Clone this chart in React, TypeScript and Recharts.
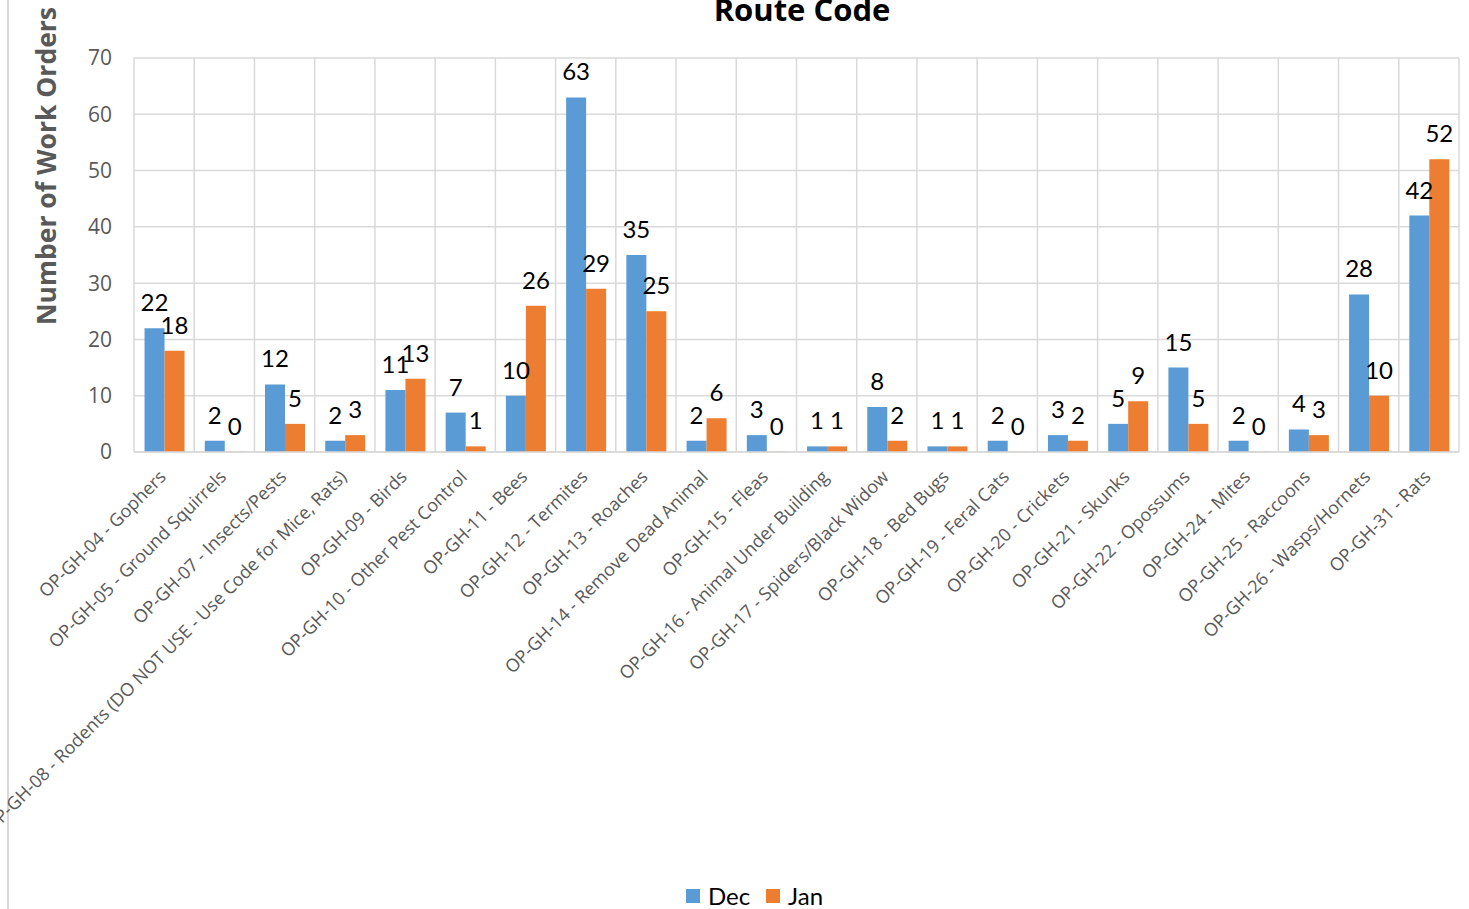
import React from 'react';
import { BarChart, Bar, XAxis, YAxis, CartesianGrid, LabelList } from 'recharts';

const categories = [
  'OP-GH-04 - Gophers',
  'OP-GH-05 - Ground Squirrels',
  'OP-GH-07 - Insects/Pests',
  'OP-GH-08 - Rodents (DO NOT USE - Use Code for Mice, Rats)',
  'OP-GH-09 - Birds',
  'OP-GH-10 - Other Pest Control',
  'OP-GH-11 - Bees',
  'OP-GH-12 - Termites',
  'OP-GH-13 - Roaches',
  'OP-GH-14 - Remove Dead Animal',
  'OP-GH-15 - Fleas',
  'OP-GH-16 - Animal Under Building',
  'OP-GH-17 - Spiders/Black Widow',
  'OP-GH-18 - Bed Bugs',
  'OP-GH-19 - Feral Cats',
  'OP-GH-20 - Crickets',
  'OP-GH-21 - Skunks',
  'OP-GH-22 - Opossums',
  'OP-GH-24 - Mites',
  'OP-GH-25 - Raccoons',
  'OP-GH-26 - Wasps/Hornets',
  'OP-GH-31 - Rats',
];
const decValues = [22, 2, 12, 2, 11, 7, 10, 63, 35, 2, 3, 1, 8, 1, 2, 3, 5, 15, 2, 4, 28, 42];
const janValues = [18, 0, 5, 3, 13, 1, 26, 29, 25, 6, 0, 1, 2, 1, 0, 2, 9, 5, 0, 3, 10, 52];
const yTicks = [0, 10, 20, 30, 40, 50, 60, 70];

const data = categories.map((name, i) => ({ name, Dec: decValues[i], Jan: janValues[i] }));

const AXIS_FONT = "'Open Sans', sans-serif";
const LABEL_FONT = "Lato, 'Open Sans', sans-serif";

const XTick = (props: any) => {
  const { x, y, payload } = props;
  const ax = x + 3;
  const ay = y + 18;
  return (
    <text
      x={ax}
      y={ay}
      transform={`rotate(-45, ${ax}, ${ay})`}
      textAnchor="end"
      fill="#595959"
      fontSize={18}
      fontFamily={AXIS_FONT}
    >
      {payload.value}
    </text>
  );
};

const minSize = (value: any) => (value === 0 ? 0.3 : 0);

export default function App() {
  return (
    <div style={{ position: 'absolute', left: 0, top: 0, width: 1469, height: 909, background: '#fff', overflow: 'hidden' }}>
      <div style={{ position: 'absolute', left: 7, top: 0, width: 2, height: 909, background: '#d9d9d9' }} />
      <BarChart
        width={1469}
        height={909}
        data={data}
        margin={{ top: 58, right: 10, left: 8, bottom: 57 }}
        barCategoryGap="17.5%"
        barGap={0}
      >
        <text x={802} y={21} textAnchor="middle" fontFamily={AXIS_FONT} fontWeight="bold" fontSize={31} fill="#000">
          Route Code
        </text>
        <text
          x={56}
          y={166}
          transform="rotate(-90, 56, 166)"
          textAnchor="middle"
          fontFamily={AXIS_FONT}
          fontWeight="bold"
          fontSize={26.5}
          fill="#595959"
        >
          Number of Work Orders
        </text>
        <CartesianGrid
          stroke="#d9d9d9"
          strokeWidth={1.5}
          verticalCoordinatesGenerator={({ offset }: any) =>
            categories.map((_, i) => offset.left + (i * offset.width) / categories.length).concat([offset.left + offset.width])
          }
        />
        <XAxis
          dataKey="name"
          interval={0}
          height={400}
          tick={<XTick />}
          tickLine={false}
          axisLine={{ stroke: '#d9d9d9', strokeWidth: 1.5 }}
        />
        <YAxis
          width={126}
          domain={[0, 70]}
          ticks={yTicks}
          tickLine={false}
          axisLine={false}
          tickSize={0}
          tickMargin={22}
          tick={{ fill: '#595959', fontSize: 21, fontFamily: AXIS_FONT }}
        />
        <Bar dataKey="Dec" fill="#5B9BD5" isAnimationActive={false} minPointSize={minSize}>
          <LabelList dataKey="Dec" position="top" offset={17} fill="#000" fontSize={24} fontFamily={LABEL_FONT} />
        </Bar>
        <Bar dataKey="Jan" fill="#ED7D31" isAnimationActive={false} minPointSize={minSize}>
          <LabelList dataKey="Jan" position="top" offset={17} fill="#000" fontSize={24} fontFamily={LABEL_FONT} />
        </Bar>
      </BarChart>
      <div
        style={{
          position: 'absolute',
          left: 20,
          top: 882,
          width: 1469,
          display: 'flex',
          justifyContent: 'center',
          alignItems: 'center',
          fontFamily: LABEL_FONT,
          fontSize: 24,
          color: '#000',
          lineHeight: '28px',
        }}
      >
        <span style={{ display: 'inline-block', width: 14, height: 14, background: '#5B9BD5', marginRight: 8 }} />
        <span style={{ marginRight: 16 }}>Dec</span>
        <span style={{ display: 'inline-block', width: 14, height: 14, background: '#ED7D31', marginRight: 8 }} />
        <span>Jan</span>
      </div>
    </div>
  );
}
